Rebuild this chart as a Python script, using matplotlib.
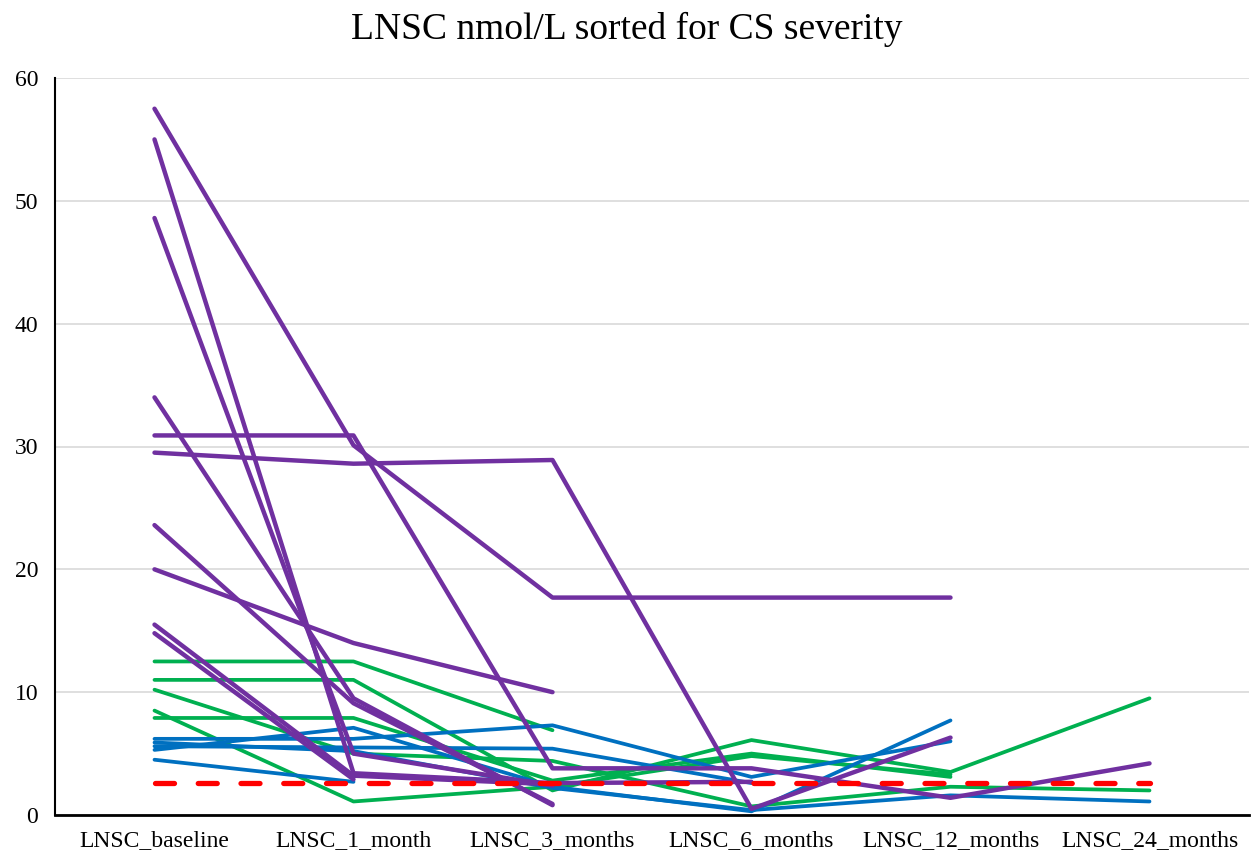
import numpy as np
import matplotlib
matplotlib.use("Agg")
import matplotlib.pyplot as plt

nan = np.nan
categories = ["LNSC_baseline", "LNSC_1_month", "LNSC_3_months",
              "LNSC_6_months", "LNSC_12_months", "LNSC_24_months"]

# purple series (most severe)
purple_1 = [57.5, 30.1, 17.7, 17.7, 17.7, nan]
purple_2 = [30.9, 30.9, 3.8, 3.8, 1.4, 4.2]
purple_3 = [29.5, 28.6, 28.9, 0.5, 6.3, nan]
purple_4 = [20.0, 14.0, 10.0, nan, nan, nan]
purple_5 = [55.0, 3.4, 2.6, 2.7, nan, nan]
purple_6 = [48.6, 5.0, 2.4, nan, nan, nan]
purple_7 = [34.0, 9.5, 0.8, nan, nan, nan]
purple_8 = [23.6, 9.1, 0.9, nan, nan, nan]
purple_9 = [15.5, 3.2, 2.5, nan, nan, nan]
purple_10 = [14.8, 2.9, nan, nan, nan, nan]

# green series
green_1 = [12.5, 12.5, 6.9, nan, nan, nan]
green_2 = [11.0, 11.0, 2.0, 6.1, 3.5, 9.5]
green_3 = [7.9, 7.9, 2.8, 5.0, 3.1, nan]
green_4 = [8.5, 1.1, 2.3, 4.8, 3.3, nan]
green_5 = [10.2, 5.0, 4.4, 0.7, 2.3, 2.0]

# blue series
blue_1 = [6.2, 6.2, 7.3, 3.1, 6.0, nan]
blue_2 = [5.6, 5.5, 5.4, 2.6, nan, nan]
blue_3 = [5.3, 7.1, 2.3, 0.3, 7.7, nan]
blue_4 = [5.9, 5.2, 2.2, 0.4, 1.6, 1.1]
blue_5 = [4.5, 2.7, nan, nan, nan, nan]

# reference line
reference = [2.6, 2.6, 2.6, 2.6, 2.6, 2.6]

title = "LNSC nmol/L sorted for CS severity"
y_ticks = [0, 10, 20, 30, 40, 50, 60]

plt.rcParams['font.family'] = ['Liberation Serif', 'DejaVu Serif']

fig = plt.figure(figsize=(12.53, 8.56), dpi=100)
ax = fig.add_axes([55/1253, 1 - 815/856, (1249-55)/1253, (815-78)/856])

x = np.arange(len(categories))

greens = [green_1, green_2, green_3, green_4, green_5]
blues = [blue_1, blue_2, blue_3, blue_4, blue_5]
purples = [purple_1, purple_2, purple_3, purple_4, purple_5,
           purple_6, purple_7, purple_8, purple_9, purple_10]

for s in greens:
    ax.plot(x, s, color="#00B050", lw=2.7, solid_capstyle="round", solid_joinstyle="round")
for s in blues:
    ax.plot(x, s, color="#0070C0", lw=2.7, solid_capstyle="round", solid_joinstyle="round")
for s in purples:
    ax.plot(x, s, color="#7030A0", lw=3.2, solid_capstyle="round", solid_joinstyle="round")
ax.plot(x, reference, color="#FF0000", lw=3.8, dashes=(3.6, 4.5),
        dash_capstyle="round")

ax.set_xlim(-0.5, 5.5)
ax.set_ylim(0, 60)
ax.set_yticks(y_ticks)
ax.set_xticks(x)
ax.set_xticklabels(categories)
ax.tick_params(axis="both", length=0, labelsize=17, colors="black")
ax.tick_params(axis="y", pad=12)
ax.tick_params(axis="x", pad=11)
ax.grid(axis="y", color="#D9D9D9", lw=1.2)
ax.set_axisbelow(True)
for sp in ["top", "right"]:
    ax.spines[sp].set_visible(False)
ax.spines["left"].set_linewidth(1.5)
ax.spines["bottom"].set_linewidth(2.0)

fig.suptitle(title, fontsize=27, y=0.986)

fig.savefig("out.png", dpi=100)
